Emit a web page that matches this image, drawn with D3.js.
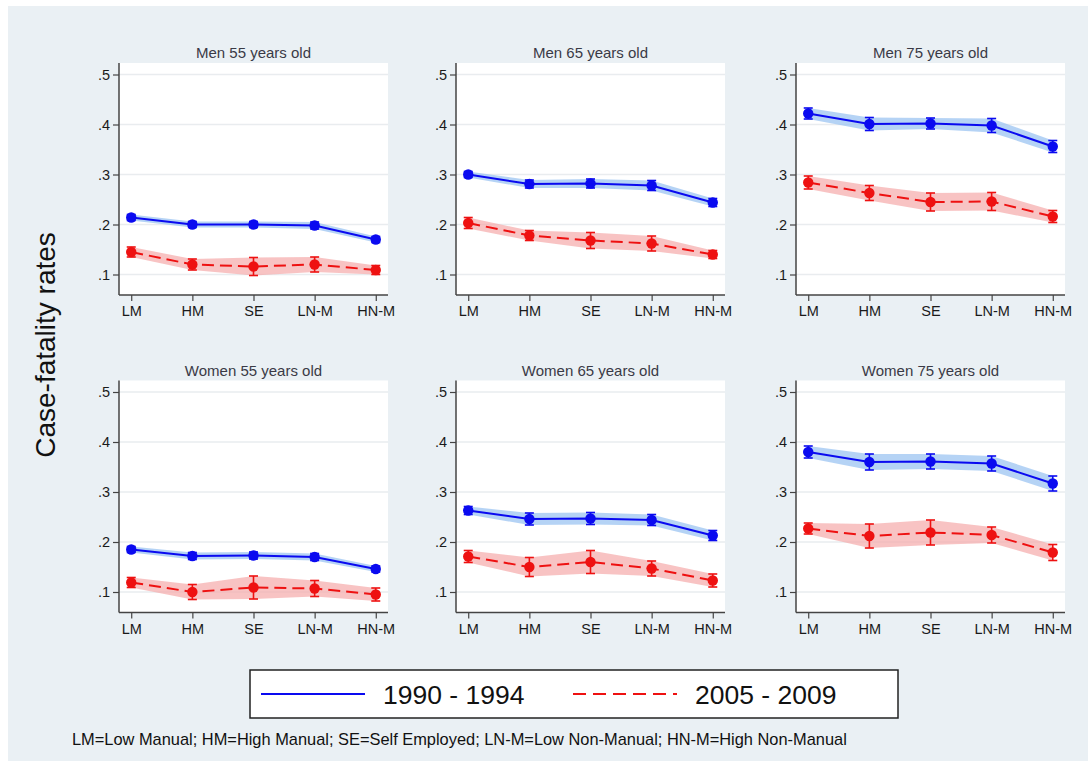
<!DOCTYPE html>
<html>
<head>
<meta charset="utf-8">
<script src="https://cdn.jsdelivr.net/npm/d3@7"></script>
<style>
  html, body { margin: 0; padding: 0; background: #ffffff; }
  svg { display: block; font-family: "Liberation Sans", Arial, sans-serif; }
</style>
</head>
<body>
<svg id="chart" width="1088" height="761"></svg>
<script>
// Occupational classes on the x axis
const classes = ["LM", "HM", "SE", "LN-M", "HN-M"];
const yTicks = [0.1, 0.2, 0.3, 0.4, 0.5];
const yTickLabels = [".1", ".2", ".3", ".4", ".5"];

const panelTitles = [
  "Men 55 years old", "Men 65 years old", "Men 75 years old",
  "Women 55 years old", "Women 65 years old", "Women 75 years old"
];

const periods = ["1990 - 1994", "2005 - 2009"];

// Case-fatality rates, period 1990-1994 (one row per panel)
const rates1990 = [
  [0.214, 0.200, 0.200, 0.198, 0.170],
  [0.300, 0.281, 0.282, 0.278, 0.244],
  [0.422, 0.401, 0.402, 0.398, 0.356],
  [0.185, 0.172, 0.173, 0.170, 0.146],
  [0.263, 0.246, 0.247, 0.244, 0.213],
  [0.380, 0.360, 0.361, 0.357, 0.317]
];
// Half-width of 95% CI, period 1990-1994
const ci1990 = [
  [0.006, 0.006, 0.006, 0.007, 0.006],
  [0.006, 0.008, 0.009, 0.010, 0.008],
  [0.011, 0.013, 0.011, 0.014, 0.012],
  [0.006, 0.007, 0.007, 0.007, 0.006],
  [0.008, 0.012, 0.012, 0.011, 0.010],
  [0.012, 0.016, 0.015, 0.015, 0.015]
];
// Case-fatality rates, period 2005-2009
const rates2005 = [
  [0.145, 0.120, 0.116, 0.120, 0.109],
  [0.203, 0.178, 0.168, 0.162, 0.140],
  [0.284, 0.263, 0.245, 0.246, 0.216],
  [0.119, 0.100, 0.109, 0.107, 0.095],
  [0.171, 0.150, 0.160, 0.147, 0.123],
  [0.227, 0.212, 0.219, 0.214, 0.179]
];
// Half-width of 95% CI, period 2005-2009
const ci2005 = [
  [0.010, 0.011, 0.018, 0.015, 0.009],
  [0.011, 0.010, 0.016, 0.015, 0.008],
  [0.013, 0.015, 0.018, 0.018, 0.012],
  [0.010, 0.015, 0.023, 0.016, 0.013],
  [0.012, 0.019, 0.023, 0.015, 0.013],
  [0.011, 0.024, 0.025, 0.016, 0.016]
];

const svg = d3.select("#chart");

// graph region
svg.append("rect").attr("x", 8).attr("y", 6).attr("width", 1080).attr("height", 755)
  .attr("fill", "#eaf0f4");

const plotW = 269, plotH = 232;
const colX = [119, 456, 796];
const rowY = [63, 380.5];

const x = d3.scalePoint().domain(classes).range([0, plotW]).padding(0.2);
const y = d3.scaleLinear().domain([0.059, 0.523]).range([plotH, 0]);

const seriesStyle = [
  { rates: rates1990, ci: ci1990, line: "#0a0af0", band: "#9cc4f2", bandOpacity: 0.75, dash: null },
  { rates: rates2005, ci: ci2005, line: "#ee1111", band: "#f5a9a9", bandOpacity: 0.7, dash: "12,6" }
];

panelTitles.forEach((title, p) => {
  const g = svg.append("g")
    .attr("transform", `translate(${colX[p % 3]},${rowY[Math.floor(p / 3)]})`);

  // plot region
  g.append("rect").attr("width", plotW).attr("height", plotH).attr("fill", "#ffffff");

  // gridlines
  g.selectAll("line.grid").data(yTicks).enter().append("line")
    .attr("x1", 0).attr("x2", plotW)
    .attr("y1", d => y(d)).attr("y2", d => y(d))
    .attr("stroke", "#e9ecef").attr("stroke-width", 1.5);

  // title
  g.append("text").attr("x", plotW / 2).attr("y", -5)
    .attr("text-anchor", "middle").attr("font-size", 15).attr("fill", "#3a3a46")
    .text(title);

  seriesStyle.forEach(s => {
    const vals = s.rates[p], half = s.ci[p];
    const pts = classes.map((c, i) => ({ c, v: vals[i], lo: vals[i] - half[i], hi: vals[i] + half[i] }));

    const area = d3.area().x(d => x(d.c)).y0(d => y(d.lo)).y1(d => y(d.hi));
    g.append("path").datum(pts).attr("d", area)
      .attr("fill", s.band).attr("fill-opacity", s.bandOpacity);

    const line = d3.line().x(d => x(d.c)).y(d => y(d.v));
    g.append("path").datum(pts).attr("d", line)
      .attr("fill", "none").attr("stroke", s.line).attr("stroke-width", 2)
      .attr("stroke-dasharray", s.dash);

    const eb = g.append("g").selectAll("g").data(pts).enter().append("g");
    eb.append("line")
      .attr("x1", d => x(d.c)).attr("x2", d => x(d.c))
      .attr("y1", d => y(d.lo)).attr("y2", d => y(d.hi))
      .attr("stroke", s.line).attr("stroke-width", 1.6);
    ["lo", "hi"].forEach(k => {
      eb.append("line")
        .attr("x1", d => x(d.c) - 4.5).attr("x2", d => x(d.c) + 4.5)
        .attr("y1", d => y(d[k])).attr("y2", d => y(d[k]))
        .attr("stroke", s.line).attr("stroke-width", 1.6);
    });
    eb.append("circle")
      .attr("cx", d => x(d.c)).attr("cy", d => y(d.v)).attr("r", 5.2)
      .attr("fill", s.line);
  });

  // axes
  const yAxis = d3.axisLeft(y).tickValues(yTicks).tickSize(6).tickPadding(3)
    .tickFormat((d, i) => yTickLabels[i]);
  const ya = g.append("g").call(yAxis);
  ya.select(".domain").attr("d", `M0,0V${plotH}`).attr("stroke", "#444").attr("stroke-width", 1.5);
  ya.selectAll(".tick line").attr("stroke", "#444").attr("stroke-width", 1.2);
  ya.selectAll(".tick text").attr("font-size", 14.5).attr("fill", "#1a1a1a")
    .attr("font-family", "Liberation Sans, Arial, sans-serif");

  const xAxis = d3.axisBottom(x).tickSize(6).tickPadding(5);
  const xa = g.append("g").attr("transform", `translate(0,${plotH})`).call(xAxis);
  xa.select(".domain").attr("d", `M0,0H${plotW}`).attr("stroke", "#444").attr("stroke-width", 1.5);
  xa.selectAll(".tick line").attr("stroke", "#444").attr("stroke-width", 1.2);
  xa.selectAll(".tick text").attr("font-size", 14.5).attr("fill", "#1a1a1a")
    .attr("font-family", "Liberation Sans, Arial, sans-serif");
});

// y axis title
svg.append("text")
  .attr("transform", "translate(55,345) rotate(-90)")
  .attr("text-anchor", "middle").attr("font-size", 28).attr("fill", "#111")
  .text("Case-fatality rates");

// legend
const lg = svg.append("g").attr("transform", "translate(250,670)");
lg.append("rect").attr("width", 648).attr("height", 48)
  .attr("fill", "#ffffff").attr("stroke", "#222").attr("stroke-width", 1.5);
const legendItems = [
  { x: 11, label: periods[0], s: seriesStyle[0] },
  { x: 323, label: periods[1], s: seriesStyle[1] }
];
legendItems.forEach(it => {
  lg.append("line").attr("x1", it.x).attr("x2", it.x + 104).attr("y1", 24).attr("y2", 24)
    .attr("stroke", it.s.line).attr("stroke-width", 2)
    .attr("stroke-dasharray", it.s.dash ? "13,7" : null);
  lg.append("text").attr("x", it.x + 122).attr("y", 33.5)
    .attr("font-size", 26.5).attr("fill", "#111").text(it.label);
});

// footnote
svg.append("text").attr("x", 72).attr("y", 745)
  .attr("font-size", 16.4).attr("fill", "#111")
  .text("LM=Low Manual; HM=High Manual; SE=Self Employed; LN-M=Low Non-Manual; HN-M=High Non-Manual");
</script>
</body>
</html>
